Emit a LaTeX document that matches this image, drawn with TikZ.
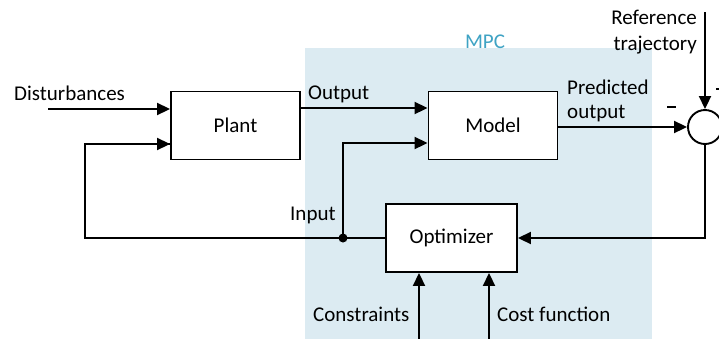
\documentclass[tikz,border=0pt]{standalone}
\usepackage{fontspec}
\setmainfont{Carlito}
\usetikzlibrary{arrows.meta}
\definecolor{mpcbg}{HTML}{DCEBF2}
\definecolor{mpctxt}{HTML}{3FA3C4}
\begin{document}
\begin{tikzpicture}[x=1pt,y=-1pt,
  blk/.style={draw,line width=1.9pt,fill=white,minimum width=129pt,minimum height=68pt,font=\fontsize{21}{24}\selectfont},
  lbl/.style={font=\fontsize{21}{24}\selectfont,inner sep=0pt},
  conn/.style={line width=1.9pt},
  arr/.style={conn,-{Triangle[length=13pt,width=12pt]}}]
\useasboundingbox (0,0) rectangle (719,338);
\clip (0,0) rectangle (719,338);
\fill[mpcbg] (305,48) rectangle (652,340);
\node[lbl,text=mpctxt,anchor=base] (mpc) at (485,48) {MPC};
\node[blk] (plant) at (235.5,125.5) {Plant};
\node[blk] (model) at (493,125.5) {Model};
\node[blk,minimum width=131pt] (opt) at (451.5,238) {Optimizer};
\node[draw,circle,line width=1.9pt,minimum size=34pt,inner sep=0pt,fill=white] (sum) at (705,127) {};
% coordinates
\coordinate (dstart) at (48,109);
\coordinate (rstart) at (705,12);
\coordinate (cstart) at (419,340);
\coordinate (fstart) at (489,340);
\coordinate (dot) at (343,238);
% labels
\node[lbl,anchor=base west] (dl) at (14,100) {Disturbances};
\node[lbl,anchor=base west] (ol) at (308,99) {Output};
\node[lbl,anchor=base west] (pl1) at (567,94) {Predicted};
\node[lbl,anchor=base west] (pl2) at (567,118) {output};
\node[lbl,anchor=base east] (rl1) at (697,24) {Reference};
\node[lbl,anchor=base east] (rl2) at (697,50) {trajectory};
\node[lbl,anchor=base west] (il) at (290,220) {Input};
\node[lbl,anchor=base west] (cl) at (313,321) {Constraints};
\node[lbl,anchor=base west] (fl) at (497,321) {Cost function};
\draw[line width=1.6pt] (667,107) -- (676,107);
\draw[line width=1.6pt] (716,89) -- (722,89);
% connectors
\draw[arr] (dstart) -- (dstart -| plant.west);
\draw[arr] (plant.east |- 0,108) -- (model.west |- 0,108);
\draw[arr] (model.east |- sum.west) -- (sum.west);
\draw[arr] (rstart) -- (sum.north);
\draw[arr] (sum.south) |- (opt.east);
\draw[conn] (opt.west) -- (85,238) |- (171,144);
\draw[arr] (85,144) -- (plant.west |- 0,144);
\draw[arr] (dot) |- (model.west |- 0,143);
\fill (dot) circle (4.5pt);
\draw[arr] (cstart) -- (cstart |- opt.south);
\draw[arr] (fstart) -- (fstart |- opt.south);
\end{tikzpicture}
\end{document}
